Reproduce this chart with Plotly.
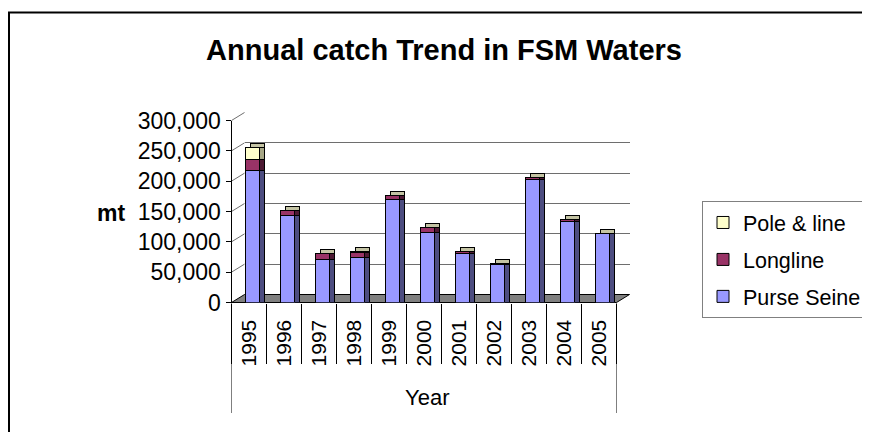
import plotly.graph_objects as go

# ---------------- data ----------------
years = ["1995", "1996", "1997", "1998", "1999", "2000", "2001", "2002", "2003", "2004", "2005"]
purse_seine = [217000, 143000, 71000, 74000, 169000, 116000, 80000, 63000, 202000, 134000, 113000]
longline = [19000, 8000, 9000, 9000, 8000, 8000, 4000, 1000, 4000, 3000, 1000]
pole_line = [19000, 300, 200, 300, 200, 300, 200, 100, 300, 200, 100]
y_tick_vals = [0, 50000, 100000, 150000, 200000, 250000, 300000]
y_tick_text = ["0", "50,000", "100,000", "150,000", "200,000", "250,000", "300,000"]
series_names = ["Purse Seine", "Longline", "Pole & line"]
legend_ranks = [3, 2, 1]
front_colors = ["#9999FF", "#993366", "#FFFFCC"]
side_colors = ["#4d4d80", "#4d1a33", "#a6a685"]
top_color = "#c4c4a4"

totals = [a + b + c for a, b, c in zip(purse_seine, longline, pole_line)]

# ---------------- geometry (page pixels) ----------------
PAGE_OFF = 8                  # default body margin of the html page
W, H = 870 - PAGE_OFF, 432 - PAGE_OFF
FONT = "Liberation Sans, Arial, sans-serif"


def px(x):
    return (x - PAGE_OFF) / W


def py(y):
    return 1 - (y - PAGE_OFF) / H


FX0, FX1 = 231.5, 616.5      # front plane x extent
FY0, FY1 = 302.5, 120.5      # front plane y of 0 and of 300,000
BDX, BDY = 13, -8            # back-wall offset
SDX, SDY = 5, -4             # bar depth offset
YMAX = 300000

front_x = [px(FX0), px(FX1)]
front_y = [py(FY0), py(FY1)]
back_x = [px(FX0 + BDX), px(FX1 + BDX)]
back_y = [py(FY0 + BDY), py(FY1 + BDY)]
depth_x = [px(FX0 + SDX), px(FX1 + SDX)]
depth_y = [py(FY0 + SDY), py(FY1 + SDY)]

BAR_W = 0.4
BAR_OFF = -0.09

fig = go.Figure()

# back wall (grid only)
fig.add_trace(go.Scatter(x=[], y=[], xaxis="x", yaxis="y", showlegend=False, hoverinfo="skip"))

# bar top faces (total height, pushed back in depth)
fig.add_trace(go.Bar(x=years, y=totals, name="top", xaxis="x2", yaxis="y2",
                     width=BAR_W, offset=BAR_OFF, showlegend=False, hoverinfo="skip",
                     marker=dict(color=top_color, line=dict(color="black", width=1))))

# bar side faces
for vals, name, col in zip([purse_seine, longline, pole_line], series_names, side_colors):
    fig.add_trace(go.Bar(x=years, y=vals, name=name, xaxis="x3", yaxis="y3",
                         width=BAR_W, offset=BAR_OFF, showlegend=False, hoverinfo="skip",
                         marker=dict(color=col, line=dict(color="black", width=1))))

# bar front faces
for vals, name, col, rk in zip([purse_seine, longline, pole_line], series_names,
                               front_colors, legend_ranks):
    fig.add_trace(go.Bar(x=years, y=vals, name=name, xaxis="x4", yaxis="y4",
                         width=BAR_W, offset=BAR_OFF, legendgroup=name, legendrank=rk,
                         marker=dict(color=col, line=dict(color="black", width=1))))

hidden = dict(showticklabels=False, showgrid=False, zeroline=False, showline=False, ticks="")
cat = dict(type="category", categoryarray=years, range=[-0.5, 10.5])

fig.update_layout(
    width=W, height=H,
    margin=dict(l=0, r=0, t=0, b=0, autoexpand=False),
    paper_bgcolor="white", plot_bgcolor="rgba(0,0,0,0)",
    barmode="stack", bargap=0.6,
    font=dict(family=FONT, size=21, color="black"),
    title=dict(text="Annual catch Trend in FSM Waters", x=px(444), y=py(50),
               xanchor="center", yanchor="middle",
               font=dict(family=FONT, size=29, color="black", weight="bold")),
    xaxis=dict(domain=back_x, anchor="y", **cat, **hidden),
    yaxis=dict(domain=back_y, range=[0, YMAX], anchor="x", showticklabels=False,
               showgrid=True, gridcolor="#6e6e6e", gridwidth=1, zeroline=False,
               showline=False, ticks="", tickvals=y_tick_vals[1:]),
    xaxis2=dict(domain=depth_x, anchor="y2", **cat, **hidden),
    yaxis2=dict(domain=depth_y, range=[0, YMAX], anchor="x2", **hidden),
    xaxis3=dict(domain=depth_x, anchor="y3", **cat, **hidden),
    yaxis3=dict(domain=front_y, range=[0, YMAX], anchor="x3", **hidden),
    xaxis4=dict(domain=front_x, anchor="y4", **cat, showgrid=False, zeroline=False,
                showline=False, ticks="", tickangle=-90, ticklabelstandoff=12,
                tickfont=dict(family=FONT, size=21, color="black")),
    xaxis5=dict(overlaying="x4", anchor="y4", **cat, showticklabels=False, showgrid=False,
                zeroline=False, showline=False, ticks="outside", tickson="boundaries",
                ticklen=60, tickcolor="black", tickwidth=1),
    yaxis4=dict(domain=front_y, range=[0, YMAX], anchor="x4", showgrid=False, zeroline=False,
                showline=True, linecolor="black", linewidth=1,
                ticks="outside", ticklen=5, tickcolor="black", tickwidth=1,
                tickvals=y_tick_vals, ticktext=y_tick_text,
                tickfont=dict(family=FONT, size=23, color="black")),
    legend=dict(x=px(702), y=py(201), xanchor="left", yanchor="top",
                bordercolor="#808080", borderwidth=1, bgcolor="white",
                traceorder="grouped", tracegroupgap=6, itemwidth=30,
                font=dict(family=FONT, size=21.5, color="black")),
    showlegend=True,
)

# dummy trace on x5 so the overlay axis (category separators) draws
fig.add_trace(go.Scatter(x=[], y=[], xaxis="x5", yaxis="y4", showlegend=False, hoverinfo="skip"))

shapes = []
# floor
floor = (f"M{px(FX0)},{py(FY0)} L{px(FX1)},{py(FY0)} L{px(FX1 + BDX)},{py(FY0 + BDY)} "
         f"L{px(FX0 + BDX)},{py(FY0 + BDY)} Z")
shapes.append(dict(type="path", path=floor, xref="paper", yref="paper",
                   fillcolor="#808080", line=dict(color="black", width=1), layer="below"))
# side-wall gridline connectors
for v in y_tick_vals[1:]:
    yy = FY0 - v / YMAX * (FY0 - FY1)
    shapes.append(dict(type="line", xref="paper", yref="paper",
                       x0=px(FX0), y0=py(yy), x1=px(FX0 + BDX), y1=py(yy + BDY),
                       line=dict(color="#6e6e6e", width=1), layer="below"))
# category table outer lines
for xv in [-0.5, 10.5]:
    shapes.append(dict(type="line", xref="x4", yref="paper", x0=xv, x1=xv,
                       y0=py(FY0), y1=py(413), line=dict(color="black", width=1)))
# outer chart border (extends beyond the view)
shapes.append(dict(type="rect", xref="paper", yref="paper", x0=px(9), x1=1.2,
                   y0=py(12.5), y1=-0.2, line=dict(color="black", width=2),
                   fillcolor="rgba(0,0,0,0)"))
fig.update_layout(shapes=shapes)

fig.add_annotation(text="<b>mt</b>", x=px(111), y=py(213), xref="paper", yref="paper",
                   xanchor="center", yanchor="middle", showarrow=False,
                   font=dict(family=FONT, size=23, color="black"))
fig.add_annotation(text="Year", x=px(427), y=py(397), xref="paper", yref="paper",
                   xanchor="center", yanchor="middle", showarrow=False,
                   font=dict(family=FONT, size=22, color="black"))

fig.write_html("out.html")
